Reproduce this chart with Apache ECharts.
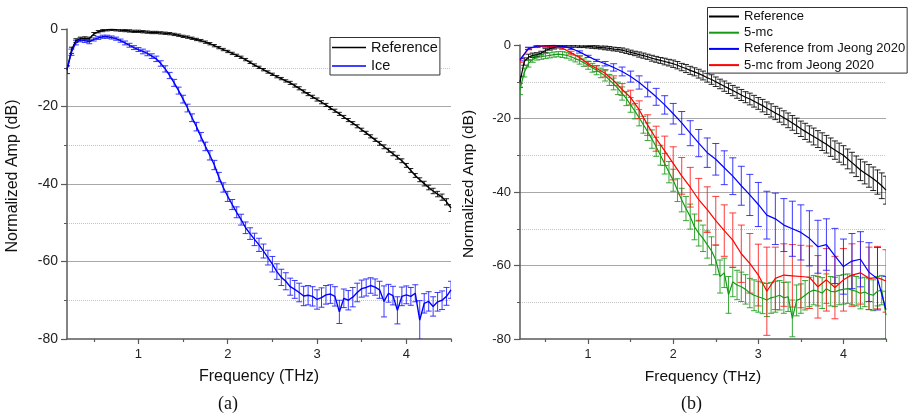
<!DOCTYPE html>
<html><head><meta charset="utf-8">
<script src="https://cdn.jsdelivr.net/npm/echarts@6/dist/echarts.min.js"></script>
<style>html,body{margin:0;padding:0;background:#fff}#c{width:912px;height:419px}</style>
</head><body><div id="c"></div>
<script>
// ---------- data ----------
const freq05 = [0.2,0.25,0.3,0.35,0.4,0.45,0.5,0.55,0.6,0.65,
  0.7,0.75,0.8,0.85,0.9,0.95,1.0,1.05,1.1,1.15,
  1.2,1.25,1.3,1.35,1.4,1.45,1.5,1.55,1.6,1.65,
  1.7,1.75,1.8,1.85,1.9,1.95,2.0,2.05,2.1,2.15,
  2.2,2.25,2.3,2.35,2.4,2.45,2.5,2.55,2.6,2.65,
  2.7,2.75,2.8,2.85,2.9,2.95,3.0,3.05,3.1,3.15,
  3.2,3.25,3.3,3.35,3.4,3.45,3.5,3.55,3.6,3.65,
  3.7,3.75,3.8,3.85,3.9,3.95,4.0,4.05,4.1,4.15,
  4.2,4.25,4.3,4.35,4.4,4.45,4.5];
const freq10 = [0.2,0.3,0.4,0.5,0.6,0.7,0.8,0.9,1.0,1.1,
  1.2,1.3,1.4,1.5,1.6,1.7,1.8,1.9,2.0,2.1,
  2.2,2.3,2.4,2.5,2.6,2.7,2.8,2.9,3.0,3.1,
  3.2,3.3,3.4,3.5,3.6,3.7,3.8,3.9,4.0,4.1,
  4.2,4.3,4.4,4.5];

// panel (a)
const refA = [-10.5,-5.5,-3.0,-2.5,-2.4,-2.5,-1.3,-0.7,-0.4,-0.2,
  -0.1,-0.2,-0.3,-0.4,-0.5,-0.6,-0.6,-0.7,-0.8,-0.9,
  -0.9,-1.0,-1.1,-1.2,-1.4,-1.6,-1.9,-2.1,-2.4,-2.7,
  -3.0,-3.4,-3.8,-4.3,-4.8,-5.3,-5.8,-6.3,-6.8,-7.3,
  -7.9,-8.6,-9.3,-9.9,-10.5,-11.1,-11.7,-12.3,-12.8,-13.4,
  -13.9,-14.6,-15.3,-16.1,-16.8,-17.5,-18.2,-18.9,-19.6,-20.4,
  -21.1,-21.9,-22.7,-23.5,-24.3,-25.1,-26.0,-26.8,-27.7,-28.6,
  -29.5,-30.4,-31.3,-32.2,-33.1,-34.0,-35.2,-36.5,-37.8,-38.9,
  -39.9,-40.9,-41.8,-42.6,-43.4,-44.6,-46.2];
const refAErr = [1.0,0.8,0.5,0.4,0.4,0.4,0.4,0.3,0.3,0.3,
  0.3,0.3,0.3,0.3,0.3,0.3,0.3,0.3,0.3,0.3,
  0.3,0.3,0.3,0.3,0.3,0.3,0.3,0.3,0.3,0.3,
  0.3,0.3,0.3,0.3,0.3,0.3,0.3,0.3,0.3,0.3,
  0.3,0.3,0.3,0.3,0.3,0.3,0.3,0.3,0.3,0.3,
  0.4,0.4,0.4,0.4,0.4,0.4,0.4,0.4,0.4,0.4,
  0.4,0.4,0.4,0.4,0.4,0.4,0.4,0.4,0.4,0.4,
  0.5,0.5,0.5,0.5,0.5,0.5,0.5,0.5,0.5,0.5,
  0.6,0.6,0.7,0.7,0.8,0.8,0.9];
const ice = [-10.5,-6.0,-3.5,-2.8,-3.0,-3.3,-2.7,-2.3,-2.0,-2.0,
  -2.2,-2.5,-3.0,-3.6,-4.2,-4.8,-5.3,-5.8,-6.3,-7.0,
  -7.7,-8.9,-10.3,-12.0,-13.9,-15.9,-18.1,-20.4,-22.9,-25.2,
  -27.8,-30.3,-32.6,-35.1,-38.2,-40.9,-43.2,-45.3,-47.3,-49.2,
  -51.3,-52.8,-54.3,-55.7,-57.3,-59.0,-60.7,-62.6,-64.1,-65.1,
  -66.5,-67.2,-68.0,-68.9,-68.7,-69.0,-69.8,-69.3,-68.6,-68.4,
  -69.0,-73.0,-69.5,-70.0,-69.2,-68.0,-67.0,-66.7,-66.2,-66.6,
  -67.3,-70.3,-68.2,-68.8,-72.6,-69.0,-68.6,-69.0,-68.2,-75.1,
  -70.8,-70.3,-71.6,-70.4,-70.0,-69.0,-67.3];
const iceErr = [1.0,0.8,0.6,0.5,0.5,0.5,0.4,0.4,0.4,0.4,
  0.4,0.4,0.4,0.5,0.5,0.5,0.5,0.6,0.6,0.6,
  0.7,0.7,0.8,0.8,0.9,0.9,1.0,1.0,1.0,1.1,
  1.1,1.1,1.2,1.2,1.2,1.2,1.3,1.3,1.4,1.4,
  1.5,1.5,1.6,1.7,1.8,1.9,2.0,2.0,2.1,2.2,
  2.2,2.3,2.4,2.5,2.5,2.5,2.5,2.5,2.4,2.4,
  2.5,3.0,2.4,2.5,2.5,2.4,2.2,2.2,2.0,2.1,
  2.2,4.0,2.3,2.4,3.5,2.4,2.3,2.3,2.2,5.0,
  2.5,2.5,2.5,2.4,2.4,2.3,2.2];

// panel (b)
const refB = [-10.0,-4.5,-3.3,-2.8,-2.6,-2.2,-1.5,-1.0,-0.7,-0.4,
  -0.3,-0.2,-0.2,-0.2,-0.3,-0.3,-0.4,-0.5,-0.6,-0.7,
  -0.8,-0.9,-1.1,-1.2,-1.4,-1.7,-2.0,-2.3,-2.6,-2.9,
  -3.2,-3.6,-3.9,-4.2,-4.5,-4.8,-5.1,-5.5,-6.0,-6.4,
  -6.9,-7.3,-7.8,-8.3,-8.9,-9.4,-10.0,-10.6,-11.2,-11.8,
  -12.4,-13.0,-13.6,-14.2,-14.7,-15.3,-15.9,-16.5,-17.2,-17.8,
  -18.5,-19.1,-19.8,-20.5,-21.2,-22.0,-22.8,-23.5,-24.2,-24.9,
  -25.6,-26.3,-27.0,-27.8,-28.6,-29.3,-30.0,-31.0,-32.0,-33.0,
  -34.0,-34.8,-35.6,-36.4,-37.3,-38.3,-39.5];
const refBErr = [1.5,1.0,0.8,0.6,0.5,0.5,0.5,0.4,0.4,0.4,
  0.4,0.4,0.4,0.4,0.4,0.4,0.4,0.4,0.4,0.4,
  0.5,0.5,0.5,0.5,0.6,0.6,0.6,0.6,0.7,0.7,
  0.7,0.8,0.8,0.8,0.9,0.9,1.0,1.0,1.0,1.1,
  1.1,1.1,1.2,1.2,1.2,1.3,1.3,1.3,1.4,1.4,
  1.4,1.5,1.5,1.5,1.6,1.6,1.6,1.7,1.7,1.8,
  1.8,1.9,1.9,2.0,2.0,2.1,2.1,2.2,2.2,2.3,
  2.3,2.4,2.4,2.5,2.5,2.6,2.6,2.7,2.8,2.8,
  2.9,3.0,3.1,3.2,3.3,3.5,3.8];
const mc5 = [-12.0,-7.5,-5.0,-3.9,-3.4,-3.2,-3.0,-2.8,-2.6,-2.5,
  -2.6,-2.8,-3.2,-3.7,-4.2,-4.8,-5.5,-6.2,-6.9,-7.6,
  -8.4,-9.5,-10.6,-11.8,-13.2,-14.6,-16.3,-18.0,-19.8,-21.7,
  -23.6,-25.6,-27.7,-30.0,-32.3,-34.6,-36.8,-39.5,-42.2,-44.5,
  -46.7,-49.5,-51.2,-52.6,-54.3,-56.0,-58.5,-63.0,-62.0,-68.0,
  -64.5,-65.3,-65.8,-66.5,-67.5,-68.1,-68.5,-68.9,-69.4,-68.8,
  -68.5,-68.1,-68.8,-68.5,-74.4,-69.5,-69.0,-68.1,-67.2,-66.7,
  -67.0,-67.5,-66.3,-67.0,-67.2,-66.7,-66.5,-66.3,-66.7,-67.0,
  -67.6,-67.2,-67.8,-68.1,-67.0,-66.7,-73.5];
const mc5Err = [1.5,1.2,1.0,0.8,0.7,0.7,0.7,0.7,0.7,0.7,
  0.8,0.8,0.9,0.9,1.0,1.0,1.1,1.2,1.2,1.3,
  1.4,1.5,1.6,1.7,1.8,1.9,2.0,2.1,2.2,2.3,
  2.4,2.5,2.6,2.7,2.8,2.9,3.0,3.1,3.2,3.3,
  3.4,3.5,3.5,3.6,3.7,3.8,4.0,4.5,4.0,5.0,
  4.0,4.0,4.0,4.0,4.0,4.2,4.2,4.2,4.5,4.2,
  4.2,4.0,4.2,4.0,5.0,4.2,4.0,4.0,4.0,4.0,
  4.0,4.2,4.0,4.0,4.0,4.0,4.0,4.0,4.0,4.0,
  4.2,4.0,4.2,4.2,4.0,4.0,6.5];
const refJeong = [-4.0,-0.9,-0.3,-0.2,-0.1,-0.3,-0.9,-1.9,-3.1,-4.2,
  -5.1,-6.1,-7.2,-8.6,-10.2,-12.1,-14.1,-16.3,-18.7,-21.2,
  -24.0,-26.7,-29.3,-31.1,-33.4,-35.7,-38.3,-40.8,-43.4,-46.3,
  -47.3,-49.0,-50.0,-51.0,-52.6,-54.9,-54.3,-57.4,-60.3,-58.8,
  -58.3,-61.8,-63.6,-72.0];
const refJeongErr = [0.3,0.3,0.3,0.3,0.3,0.3,0.3,0.3,0.3,0.3,
  0.6,1.0,1.2,1.5,1.8,2.0,2.3,2.5,2.8,3.1,
  3.4,3.7,4.0,4.3,4.6,5.0,5.3,5.6,6.0,6.5,
  7.0,7.2,7.5,7.5,7.5,7.2,7.0,7.5,7.5,7.5,
  7.5,8.0,8.5,9.0];
const mc5Jeong = [-4.2,-1.0,-0.4,-0.3,-0.4,-0.9,-2.1,-3.4,-5.1,-6.4,
  -7.7,-9.7,-12.1,-14.3,-17.6,-21.8,-25.5,-28.8,-32.2,-35.6,
  -38.7,-42.1,-44.8,-47.8,-50.5,-53.1,-56.8,-59.4,-62.6,-67.0,
  -63.5,-62.6,-62.8,-63.0,-63.2,-65.8,-63.9,-66.0,-63.9,-62.6,
  -62.0,-63.5,-63.3,-64.2];
const mc5JeongErr = [0.5,0.3,0.3,0.3,0.3,0.3,0.4,0.5,0.6,0.8,
  1.0,1.3,1.6,2.0,2.4,2.8,3.4,4.0,4.5,5.0,
  5.4,5.8,6.2,6.6,7.0,7.4,7.8,8.1,8.4,12.0,
  8.5,8.5,8.5,8.5,8.5,8.5,8.5,8.5,8.5,8.5,
  8.5,8.5,8.5,8.5];

const xMajor = [1, 2, 3, 4];
const xMinor = [0.5, 1.5, 2.5, 3.5, 4.5];

// ---------- helpers ----------
const pairs = (f, v) => f.map((x, i) => [x, v[i]]);
const bars = (f, v, e) => f.map((x, i) => [x, v[i] - e[i], v[i] + e[i]]);
function errRender(color, cap) {
  return function (params, api) {
    const x = api.value(0), lo = api.value(1), hi = api.value(2);
    const a = api.coord([x, hi]), b = api.coord([x, lo]);
    const st = { stroke: color, lineWidth: 1, opacity: 0.85 };
    return { type: 'group', children: [
      { type: 'line', shape: { x1: a[0], y1: a[1], x2: b[0], y2: b[1] }, style: st },
      { type: 'line', shape: { x1: a[0] - cap, y1: a[1], x2: a[0] + cap, y2: a[1] }, style: st },
      { type: 'line', shape: { x1: b[0] - cap, y1: b[1], x2: b[0] + cap, y2: b[1] }, style: st }
    ]};
  };
}
function errSeries(name, xi, yi, data, color, cap) {
  return { name: name + ' err', type: 'custom', xAxisIndex: xi, yAxisIndex: yi, clip: true,
    renderItem: errRender(color, cap), encode: { x: 0, y: [1, 2] }, data: data, z: 2, silent: true };
}
function lineSeries(name, xi, yi, data, color, w) {
  return { name: name, type: 'line', xAxisIndex: xi, yAxisIndex: yi, data: data, symbol: 'none',
    lineStyle: { color: color, width: w }, itemStyle: { color: color }, z: 3, clip: true, silent: true };
}

const FONT = 'Liberation Sans, Arial, sans-serif';
const AX = '#5a5a5a';
function xAxes(gi, fs, nfs) {
  return [
    { type: 'value', gridIndex: gi, min: 0.2, max: 4.5, position: 'bottom',
      name: 'Frequency (THz)', nameLocation: 'middle', nameGap: 30,
      nameTextStyle: { fontFamily: FONT, fontSize: nfs, color: '#111' },
      axisLine: { show: true, onZero: false, lineStyle: { color: AX, width: 1.5 } },
      axisTick: { show: true, length: 5, customValues: xMajor, lineStyle: { color: AX, width: 1.2 } },
      axisLabel: { customValues: xMajor, fontFamily: FONT, fontSize: fs, color: '#222', margin: 9 },
      splitLine: { show: false } },
    { type: 'value', gridIndex: gi, min: 0.2, max: 4.5, position: 'bottom',
      axisLine: { show: false, onZero: false },
      axisTick: { show: true, length: 3, customValues: xMinor, lineStyle: { color: AX, width: 1.2 } },
      axisLabel: { show: false }, splitLine: { show: false } }
  ];
}
function yAxis(gi, fs, nfs, gap) {
  return { type: 'value', gridIndex: gi, min: -80, max: 0, interval: 20,
    name: 'Normalized Amp (dB)', nameLocation: 'middle', nameGap: gap,
    nameTextStyle: { fontFamily: FONT, fontSize: nfs, color: '#111', padding: [0, 0, 0, 16] },
    axisLine: { show: true, onZero: false, lineStyle: { color: AX, width: 1.5 } },
    axisTick: { show: true, length: 6, lineStyle: { color: AX, width: 1.2 } },
    minorTick: { show: true, splitNumber: 2, length: 3, lineStyle: { color: AX } },
    axisLabel: { fontFamily: FONT, fontSize: fs, color: '#222', margin: 9 },
    splitLine: { show: true, showMaxLine: false, showMinLine: false, lineStyle: { color: '#a8a8a8', width: 1 } },
    minorSplitLine: { show: true, lineStyle: { color: '#c4c4c4', width: 1, type: 'dotted' } } };
}

const chart = echarts.init(document.getElementById('c'), null, { renderer: 'canvas' });
chart.setOption({
  animation: false,
  backgroundColor: '#fff',
  grid: [
    { left: 67, top: 29, width: 384, height: 310, containLabel: false },
    { left: 520, top: 45, width: 366, height: 294, containLabel: false }
  ],
  xAxis: [].concat(xAxes(0, 13, 16), xAxes(1, 12.5, 15.5)),
  yAxis: [yAxis(0, 14, 16, 46), yAxis(1, 13, 15.5, 43)],
  legend: [
    { orient: 'vertical', left: 330, top: 37.5, data: ['Reference', 'Ice'],
      icon: 'rect', itemWidth: 34, itemHeight: 1.6, itemGap: 2.5,
      padding: [2, 2, 1, 2], borderColor: '#333', borderWidth: 1, backgroundColor: '#fff',
      textStyle: { fontFamily: FONT, fontSize: 14.5, color: '#111', lineHeight: 16 }, selectedMode: false },
    { orient: 'vertical', left: 707.5, top: 7.5,
      data: ['Reference', '5-mc', 'Reference from Jeong 2020', '5-mc from Jeong 2020'],
      icon: 'rect', itemWidth: 30, itemHeight: 2, itemGap: 2.2,
      padding: [2, 2, 1, 1.5], borderColor: '#333', borderWidth: 1, backgroundColor: '#fff',
      textStyle: { fontFamily: FONT, fontSize: 13, color: '#111', lineHeight: 14 }, selectedMode: false }
  ],
  graphic: [
    { type: 'text', left: 229 - 11, top: 395, style: { text: '(a)', font: '18px "Liberation Serif", "Times New Roman", serif', fill: '#111' } },
    { type: 'text', left: 692 - 11, top: 395, style: { text: '(b)', font: '18px "Liberation Serif", "Times New Roman", serif', fill: '#111' } }
  ],
  series: [
    errSeries('Reference', 0, 0, bars(freq05, refA, refAErr), '#000', 2.5),
    lineSeries('Reference', 0, 0, pairs(freq05, refA), '#000', 1.4),
    errSeries('Ice', 0, 0, bars(freq05, ice, iceErr), '#1a1aff', 3),
    lineSeries('Ice', 0, 0, pairs(freq05, ice), '#0000ff', 1.4),

    errSeries('Reference', 2, 1, bars(freq05, refB, refBErr), '#000', 3),
    lineSeries('Reference', 2, 1, pairs(freq05, refB), '#000', 1.2),
    errSeries('5-mc', 2, 1, bars(freq05, mc5, mc5Err), '#169a16', 3),
    lineSeries('5-mc', 2, 1, pairs(freq05, mc5), '#169a16', 1.2),
    errSeries('5-mc from Jeong 2020', 2, 1, bars(freq10, mc5Jeong, mc5JeongErr), '#ff1a1a', 3.5),
    lineSeries('5-mc from Jeong 2020', 2, 1, pairs(freq10, mc5Jeong), '#ff0000', 1.2),
    errSeries('Reference from Jeong 2020', 2, 1, bars(freq10, refJeong, refJeongErr), '#1a1aff', 3.5),
    lineSeries('Reference from Jeong 2020', 2, 1, pairs(freq10, refJeong), '#0000ff', 1.2)
  ]
});
</script></body></html>
